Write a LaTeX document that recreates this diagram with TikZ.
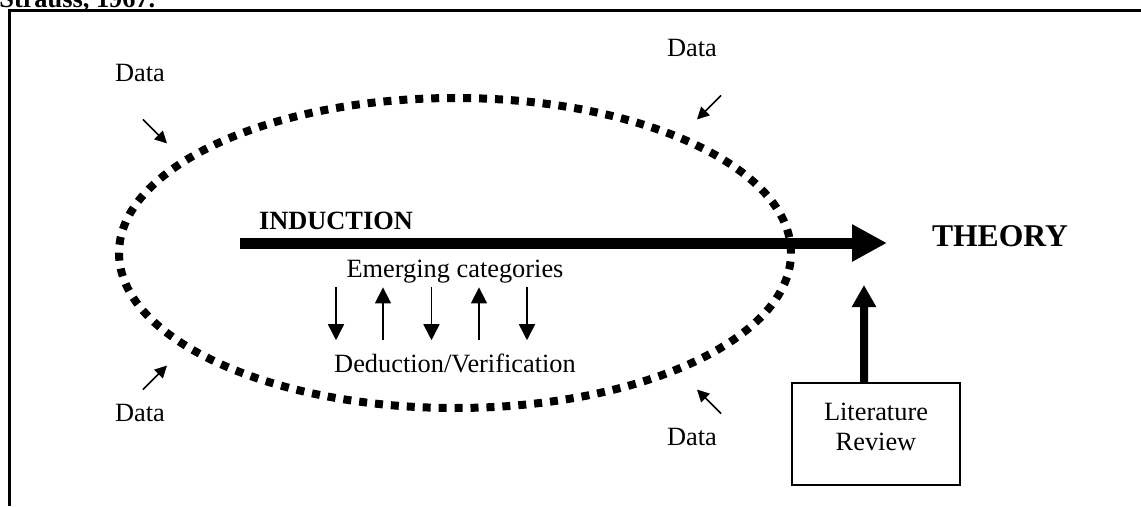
\documentclass[tikz,border=0pt]{standalone}
\usepackage{fontspec}
\setmainfont{Liberation Serif}
\usepackage{tikz}
\usetikzlibrary{arrows.meta}
\tikzset{
    Label/.style = {font=\fontsize{15}{17}\selectfont},
    Heading/.style = {font=\fontsize{15}{17}\selectfont\bfseries},
    square dots/.style = {line width=0.16cm, dash pattern=on 0.16cm off 0.159cm},
    thin arrow/.style = {line width=0.03cm, -{Triangle[length=#1,width=#1]}},
    thick arrow/.style = {line width=#1, -{Triangle[length=3.2*#1,width=3.2*#1]}},
    Review box/.style = {draw, line width=0.03cm, align=center, minimum width=3.36cm,
        minimum height=2.04cm, text depth=0.28cm}
}
\begin{document}
\begin{tikzpicture}[Label]
        \useasboundingbox (0,0) rectangle (22.82,10.12);
        \node[Heading,anchor=base west,inner sep=0pt] (source) at (-0.02,9.97) {Strauss, 1967.};
        \draw[line width=0.06cm] (0.19,0) -- (0.19,9.91) -- (22.82,9.91);
        \draw[square dots] (9.1,5.06) ellipse (6.72 and 3.1);
        \node (datatl) at (2.8,8.67) {Data};
        \node (datatr) at (13.84,9.16) {Data};
        \node (databl) at (2.8,1.86) {Data};
        \node (databr) at (13.84,1.38) {Data};
        \draw[thin arrow=0.24cm] ([shift={(0.06,-0.64)}]datatl.south) -- ++(0.48,-0.48);
        \draw[thin arrow=0.24cm] ([shift={(0.58,-0.65)}]datatr.south) -- ++(-0.48,-0.48);
        \draw[thin arrow=0.24cm] ([shift={(0.06,0.17)}]databl.north) -- ++(0.48,0.48);
        \draw[thin arrow=0.24cm] ([shift={(0.58,0.17)}]databr.north) -- ++(-0.48,0.48);
        \coordinate (indstart) at (4.8,5.26);
        \coordinate (indend) at (17.74,5.26);
        \draw[line width=0.22cm,-{Triangle[length=0.7cm,width=0.7cm]}] (indstart) -- (indend);
        \node[Heading] (induction) at (6.72,5.7) {INDUCTION};
        \node[Heading,font=\fontsize{18}{21}\selectfont\bfseries] (theory) at (20,5.4) {THEORY};
        \node[anchor=base] (emerging) at (9.1,4.58) {Emerging categories};
        \node[anchor=base] (deduction) at (9.1,2.68) {Deduction/Verification};
        \foreach \X in {-2.38,-0.47,1.44}
            {\draw[thin arrow=0.32cm] ([shift={(\X,0.03)}]emerging.south) -- ([shift={(\X,0.14)}]deduction.north);}
        \foreach \X in {-1.44,0.48}
            {\draw[thin arrow=0.32cm] ([shift={(\X,0.14)}]deduction.north) -- ([shift={(\X,0.03)}]emerging.south);}
        \node[Review box] (litrev) at (17.52,1.44) {Literature\\Review};
        \coordinate (littip) at (17.28,4.42);
        \draw[line width=0.16cm,-{Triangle[length=0.44cm,width=0.46cm]}] ([xshift=-0.24cm]litrev.north) -- (littip);
        \end{tikzpicture}
\end{document}
